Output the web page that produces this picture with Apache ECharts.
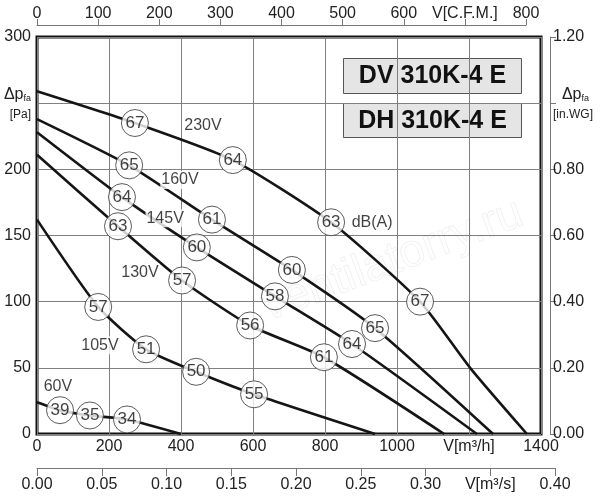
<!DOCTYPE html>
<html>
<head>
<meta charset="utf-8">
<script src="https://cdn.jsdelivr.net/npm/echarts@6/dist/echarts.min.js"></script>
<style>
  html, body { margin: 0; padding: 0; background: #fff; }
  #chart { width: 600px; height: 500px; }
</style>
</head>
<body>
<div id="chart"></div>
<script>
// curves: [V m3/h, dp Pa]
var curve230 = [[0,259],[272,235],[544,207],[817,160],[1064,100],[1203,50],[1361,0]];
var curve160 = [[0,238],[256,203],[486,162],[708,124],[939,80],[1267,0]];
var curve145 = [[0,228],[236,179],[444,141],[661,104],[875,68],[1222,0]];
var curve130 = [[0,211],[225,157],[403,116],[592,82],[797,58],[1131,0]];
var curve105 = [[0,162],[170,96],[303,64],[442,47],[603,30],[939,0]];
var curve60  = [[0,24],[64,18],[147,14],[250,11],[400,0]];

// dB(A) circles: [V, dp, dB]
var db230 = [[272,235,67],[544,207,64],[817,160,63],[1064,100,67]];
var db160 = [[256,203,65],[486,162,61],[708,124,60],[939,80,65]];
var db145 = [[236,179,64],[444,141,60],[661,104,58],[875,68,64]];
var db130 = [[225,157,63],[403,116,57],[592,82,56],[797,58,61]];
var db105 = [[170,96,57],[303,64,51],[442,47,50],[603,30,55]];
var db60  = [[64,18,39],[147,14,35],[250,11,34]];

// voltage labels
var voltLabels = [[461,233,'230V'],[397,192,'160V'],[356,163,'145V'],[286,122,'130V'],[175,67,'105V'],[58,36,'60V']];

var FONT = 'Liberation Sans';
var myChart = echarts.init(document.getElementById('chart'));

function curve(d) {
    return {
        type: 'line', data: d, xAxisIndex: 0, yAxisIndex: 0,
        smooth: 0.2, showSymbol: false, silent: true,
        lineStyle: { color: '#151515', width: 2.6 }, z: 3
    };
}

var dbAll = [].concat(db230, db160, db145, db130, db105, db60);

var subRich = {
    a: { fontSize: 16, color: '#222', fontFamily: FONT },
    s: { fontSize: 9, color: '#222', fontFamily: FONT, verticalAlign: 'bottom', padding: [8, 0, 0, 0] },
    b: { fontSize: 12, color: '#222', fontFamily: FONT, padding: [6, 0, 0, 0] }
};

var option = {
    animation: false,
    textStyle: { fontFamily: FONT },
    grid: [
        { left: 37, top: 37, width: 504, height: 397, show: true, borderColor: '#111', borderWidth: 3, backgroundColor: 'transparent' },
        { left: 37, top: 37, width: 489, height: 397 },
        { left: 37, top: 37, width: 518, height: 397 }
    ],
    xAxis: [
        {
            gridIndex: 0, type: 'value', min: 0, max: 1400, interval: 200,
            axisLine: { show: false }, axisTick: { show: false },
            splitLine: { show: true, lineStyle: { color: '#808080', width: 1 } },
            axisLabel: {
                color: '#222', fontSize: 16, margin: 5,
                formatter: function (v) { return v === 1200 ? 'V[m³/h]' : v; }
            }
        },
        {
            gridIndex: 1, type: 'value', position: 'top', offset: 12, min: 0, max: 800, interval: 100,
            axisLine: { show: true, onZero: false, lineStyle: { color: '#777', width: 1 } },
            axisTick: { show: true, length: 6, lineStyle: { color: '#777' } },
            splitLine: { show: false },
            axisLabel: {
                color: '#222', fontSize: 16, margin: 3,
                formatter: function (v) { return v === 700 ? 'V[C.F.M.]' : v; }
            }
        },
        {
            gridIndex: 2, type: 'value', position: 'bottom', offset: 34, min: 0, max: 0.4, interval: 0.05,
            axisLine: { show: true, onZero: false, lineStyle: { color: '#777', width: 1 } },
            axisTick: { show: true, length: 8, lineStyle: { color: '#777' } },
            splitLine: { show: false },
            axisLabel: {
                color: '#222', fontSize: 16, margin: 9,
                formatter: function (v) { return Math.abs(v - 0.35) < 1e-6 ? 'V[m³/s]' : v.toFixed(2); }
            }
        }
    ],
    yAxis: [
        {
            gridIndex: 0, type: 'value', min: 0, max: 300, interval: 50,
            axisLine: { show: false }, axisTick: { show: false },
            splitLine: { show: true, lineStyle: { color: '#808080', width: 1 } },
            axisLabel: {
                color: '#222', fontSize: 16, margin: 6,
                formatter: function (v) { return v === 250 ? '{a|Δp}{s|fa}\n{b|[Pa]}' : v; },
                rich: subRich
            }
        },
        {
            gridIndex: 0, type: 'value', position: 'right', offset: 9, min: 0, max: 1.2, interval: 0.2,
            axisLine: { show: true, onZero: false, lineStyle: { color: '#777', width: 1 } },
            axisTick: { show: true, length: 6, lineStyle: { color: '#777' } },
            splitLine: { show: false },
            axisLabel: {
                color: '#222', fontSize: 16, margin: 3,
                formatter: function (v) { return Math.abs(v - 1) < 1e-6 ? '{a|  Δp}{s|fa}\n{b|[in.WG]}' : v.toFixed(2); },
                rich: subRich
            }
        },
        { gridIndex: 1, type: 'value', min: 0, max: 300, show: false },
        { gridIndex: 2, type: 'value', min: 0, max: 300, show: false }
    ],
    graphic: [
        {
            type: 'text', left: 255, top: 190, rotation: 0.36, z: 1, silent: true,
            style: { text: 'ventilatorry.ru', font: '46px "Liberation Sans"', fill: 'rgba(255,255,255,0)', stroke: 'rgba(0,0,0,0.06)', lineWidth: 1 }
        },
        {
            type: 'group', left: 343, top: 58, z: 10,
            children: [
                { type: 'rect', shape: { x: 0, y: 0, width: 178, height: 35 }, style: { fill: '#e5e5e5', stroke: '#555', lineWidth: 1 } },
                { type: 'text', x: 89, y: 18, style: { text: 'DV 310K-4 E', font: 'bold 25px "Liberation Sans"', fill: '#111', textAlign: 'center', textVerticalAlign: 'middle' } }
            ]
        },
        {
            type: 'group', left: 343, top: 103, z: 10,
            children: [
                { type: 'rect', shape: { x: 0, y: 0, width: 178, height: 34 }, style: { fill: '#e5e5e5', stroke: '#555', lineWidth: 1 } },
                { type: 'text', x: 89, y: 18, style: { text: 'DH 310K-4 E', font: 'bold 25px "Liberation Sans"', fill: '#111', textAlign: 'center', textVerticalAlign: 'middle' } }
            ]
        }
    ],
    series: [
        curve(curve230), curve(curve160), curve(curve145),
        curve(curve130), curve(curve105), curve(curve60),
        {
            type: 'scatter', data: dbAll, xAxisIndex: 0, yAxisIndex: 0, z: 5, silent: true,
            symbol: 'circle', symbolSize: 27,
            itemStyle: { color: '#fff', borderColor: '#333', borderWidth: 1 },
            label: {
                show: true, position: 'inside', color: '#111', fontSize: 17, fontFamily: FONT,
                formatter: function (p) { return p.value[2]; }
            }
        },
        {
            type: 'scatter', data: voltLabels, xAxisIndex: 0, yAxisIndex: 0, z: 4, silent: true,
            symbolSize: 0,
            label: {
                show: true, position: 'inside', color: '#111', fontSize: 16, fontFamily: FONT,
                backgroundColor: '#fff', padding: [1, 1],
                formatter: function (p) { return p.value[2]; }
            }
        },
        {
            type: 'scatter', data: [[931, 160, 'dB(A)']], xAxisIndex: 0, yAxisIndex: 0, z: 4, silent: true,
            symbolSize: 0,
            label: {
                show: true, position: 'inside', color: '#111', fontSize: 16, fontFamily: FONT,
                formatter: function (p) { return p.value[2]; }
            }
        }
    ]
};

myChart.setOption(option);
window.addEventListener('resize', function () {
    myChart.resize();
});
</script>
</body>
</html>
